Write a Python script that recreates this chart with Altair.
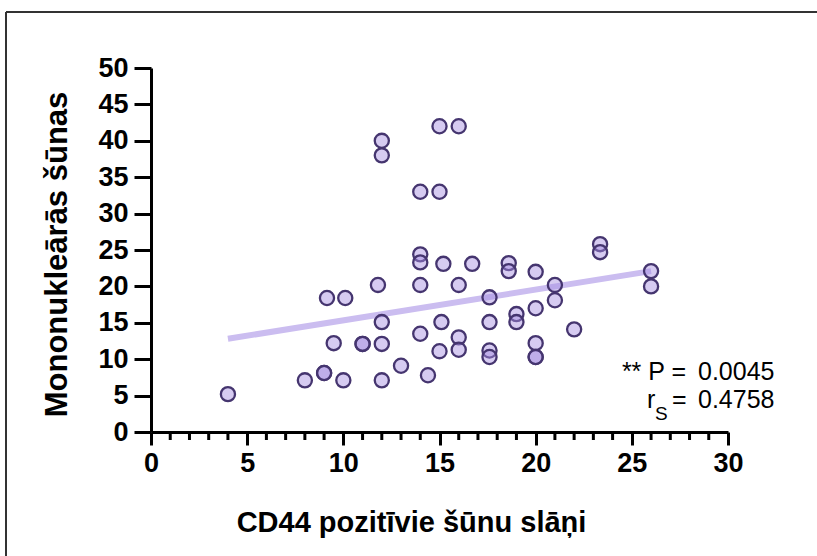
import altair as alt
import pandas as pd

# scatter data
cd44 = [4, 8, 9, 9, 10, 12, 13, 14.4, 9.15, 10.1, 9.5, 11, 11, 12, 12, 11.8, 12, 12,
        14, 15, 15, 16, 14, 14, 15.2, 14, 14, 15, 15.1, 16, 16, 16, 16.7, 17.6, 17.6,
        17.6, 17.6, 18.6, 18.6, 19, 19, 20, 20, 20, 20, 20, 21, 21, 22, 23.35, 23.35, 26, 26]
mono = [5.2, 7.1, 8.1, 8.1, 7.1, 7.1, 9.1, 7.8, 18.4, 18.4, 12.2, 12.1, 12.1, 12.1, 15.1,
        20.2, 40, 38, 33, 33, 42, 42, 24.4, 23.3, 23.1, 20.2, 13.5, 11.1, 15.1, 20.2, 13,
        11.3, 23.1, 18.5, 15.1, 11.2, 10.3, 23.2, 22.1, 16.2, 15.1, 22, 17, 12.2, 10.3,
        10.3, 20.2, 18.1, 14.1, 25.8, 24.7, 22.1, 20]

# fitted line end points
fit_x = [4, 26]
fit_y = [12.8, 22.1]

x_ticks = [0, 5, 10, 15, 20, 25, 30]
y_ticks = [0, 5, 10, 15, 20, 25, 30, 35, 40, 45, 50]
minor_ticks = [v for v in range(0, 31) if v % 5 != 0]

x_title = "CD44 pozitīvie šūnu slāņi"
y_title = "Mononukleārās šūnas"

# annotation pieces
ann_text = ["** P =", "0.0045", "r", "=", "0.4758"]
ann_x = [27.82, 28.44, 25.79, 27.09, 28.44]
ann_y = [7.14, 7.14, 3.30, 3.30, 3.30]
ann_align = ["right", "left", "left", "left", "left"]
sub_text = ["S"]
sub_x = [26.2]
sub_y = [1.65]

FONT = "Liberation Sans"

pts = pd.DataFrame({"x": cd44, "y": mono})
fit = pd.DataFrame({"x": fit_x, "y": fit_y})
minor = pd.DataFrame({"x": minor_ticks})
ann = pd.DataFrame({"t": ann_text, "x": ann_x, "y": ann_y, "a": ann_align})
sub = pd.DataFrame({"t": sub_text, "x": sub_x, "y": sub_y})

xscale = alt.Scale(domain=[0, 30], nice=False, zero=False)
yscale = alt.Scale(domain=[0, 50], nice=False, zero=False)

xaxis = alt.Axis(values=x_ticks, title=x_title, grid=False, domainWidth=3, domainColor="black",
                 tickWidth=3, tickSize=13, tickColor="black", labelFont=FONT, labelFontSize=27,
                 labelFontWeight="bold", labelColor="black", labelPadding=5, labelFlush=False,
                 labelOverlap=False,
                 titleFont=FONT, titleFontSize=29, titleFontWeight="bold", titleColor="black",
                 titleBaseline="middle", titleX=260, titleY=90)
yaxis = alt.Axis(values=y_ticks, title=y_title, grid=False, domainWidth=3, domainColor="black",
                 tickWidth=3, tickSize=17, tickColor="black", labelFont=FONT, labelFontSize=27,
                 labelFontWeight="bold", labelColor="black", labelPadding=6, labelFlush=False,
                 labelOverlap=False, labelSeparation=0,
                 titleFont=FONT, titleFontSize=31, titleFontWeight="bold", titleColor="black",
                 titleAngle=-90, titleBaseline="middle", titleAlign="center", titleX=-94, titleY=186)

X = alt.X("x:Q", scale=xscale, axis=xaxis)
Y = alt.Y("y:Q", scale=yscale, axis=yaxis)

line = alt.Chart(fit).mark_line(color="#cbbdf0", strokeWidth=6, strokeCap="butt").encode(x=X, y=Y)

points = alt.Chart(pts).mark_point(
    shape="circle", filled=True, fill="#a58be0", fillOpacity=0.45,
    stroke="#45356f", strokeWidth=2.3, size=200, opacity=1
).encode(x=X, y=Y)

minor_rules = alt.Chart(minor).mark_rule(color="black", strokeWidth=3).encode(
    x=X, y=alt.value(364), y2=alt.value(372),
)

ann_r = alt.Chart(ann[ann.a == "right"]).mark_text(
    align="right", baseline="alphabetic", font=FONT, fontSize=25, color="black"
).encode(x=X, y=Y, text="t:N")
ann_l = alt.Chart(ann[ann.a == "left"]).mark_text(
    align="left", baseline="alphabetic", font=FONT, fontSize=25, color="black"
).encode(x=X, y=Y, text="t:N")
ann_s = alt.Chart(sub).mark_text(
    align="left", baseline="alphabetic", font=FONT, fontSize=19, color="black"
).encode(x=X, y=Y, text="t:N")

frame_left = alt.Chart(pts).mark_rule(color="#333333", strokeWidth=1.5).encode(
    x=alt.value(-145), y=alt.value(-56), y2=alt.value(500))
frame_top = alt.Chart(pts).mark_rule(color="#333333", strokeWidth=1.5).encode(
    x=alt.value(-145), x2=alt.value(680), y=alt.value(-56))

chart = alt.layer(line, points, minor_rules, ann_r, ann_l, ann_s, frame_left, frame_top).properties(
    width=577, height=364,
    autosize=alt.AutoSizeParams(type="none"),
    padding={"left": 151, "top": 68, "right": 89, "bottom": 124},
    background="white",
).configure_view(stroke=None).configure_axis(labelOverlap=False)

chart.save("out.html", embed_options={"renderer": "svg", "actions": False})
